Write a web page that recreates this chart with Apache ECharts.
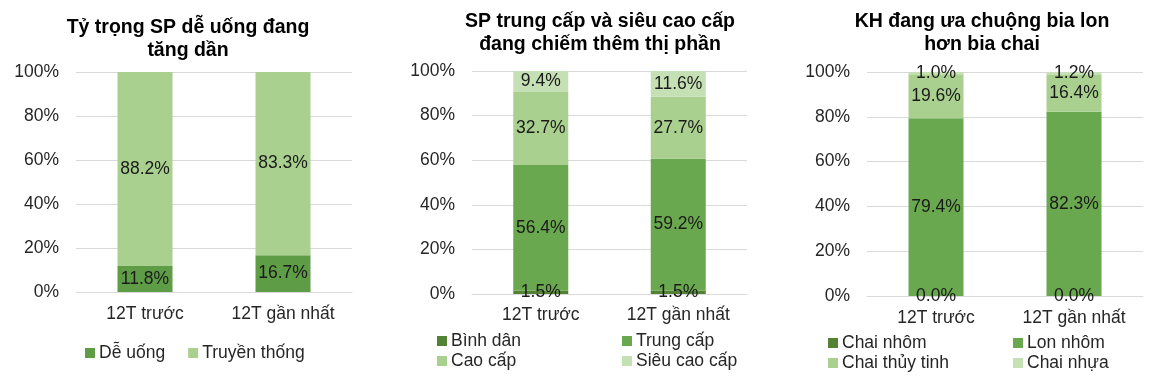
<!DOCTYPE html>
<html>
<head>
<meta charset="utf-8">
<script src="https://cdn.jsdelivr.net/npm/echarts@6/dist/echarts.min.js"></script>
<style>
html,body{margin:0;padding:0;background:#fff;}
#c{width:1156px;height:386px;}
</style>
</head>
<body>
<div id="c"></div>
<script>
// ---- data ----
const categories = ['12T trước', '12T gần nhất'];
const yTicks = [0, 20, 40, 60, 80, 100];

const title1 = 'Tỷ trọng SP dễ uống đang\ntăng dần';
const names1 = ['Dễ uống', 'Truyền thống'];
const deUong = [11.8, 16.7];
const truyenThong = [88.2, 83.3];

const title2 = 'SP trung cấp và siêu cao cấp\nđang chiếm thêm thị phần';
const names2 = ['Bình dân', 'Trung cấp', 'Cao cấp', 'Siêu cao cấp'];
const binhDan = [1.5, 1.5];
const trungCap = [56.4, 59.2];
const caoCap = [32.7, 27.7];
const sieuCaoCap = [9.4, 11.6];

const title3 = 'KH đang ưa chuộng bia lon\nhơn bia chai';
const names3 = ['Chai nhôm', 'Lon nhôm', 'Chai thủy tinh', 'Chai nhựa'];
const chaiNhom = [0.0, 0.0];
const lonNhom = [79.4, 82.3];
const chaiThuyTinh = [19.6, 16.4];
const chaiNhua = [1.0, 1.2];

// ---- style ----
const FONT = "'Liberation Sans', Arial, sans-serif";
const FS = 17.5;
const C_DARK = '#548235', C_MID = '#6aa84f', C_LIGHT = '#a9d08e', C_LIGHTEST = '#c5e0b4';
const C_DE = '#5f9c46';

const grids = [
  {left: 76, width: 276, top: 72, height: 220},
  {left: 472, width: 275, top: 71, height: 223},
  {left: 867, width: 276, top: 72, height: 224}
];

function xAxis(i, margin) {
  return {
    type: 'category', gridIndex: i, data: categories,
    axisLine: {show: true, lineStyle: {color: '#d9d9d9', width: 1}},
    axisTick: {show: false},
    axisLabel: {fontFamily: FONT, fontSize: FS, color: '#262626', margin: margin}
  };
}
function yAxis(i) {
  return {
    type: 'value', gridIndex: i, min: yTicks[0], max: yTicks[yTicks.length - 1], interval: 20,
    axisLine: {show: false}, axisTick: {show: false},
    splitLine: {lineStyle: {color: '#d9d9d9', width: 1}},
    axisLabel: {fontFamily: FONT, fontSize: FS, color: '#262626', margin: 17,
      formatter: v => v + '%'}
  };
}
function bar(name, data, i, color) {
  return {
    type: 'bar', name: name, data: data, xAxisIndex: i, yAxisIndex: i,
    stack: 's' + i, barWidth: 55, itemStyle: {color: color},
    label: {show: true, position: 'inside', fontFamily: FONT, fontSize: FS, color: '#1a1a1a',
      formatter: p => p.value.toFixed(1) + '%'}
  };
}
function legend(data, left, top, vertical) {
  return {
    data: data, left: left, top: top, orient: vertical ? 'vertical' : 'horizontal',
    icon: 'rect', itemWidth: 10, itemHeight: 10, itemGap: vertical ? 2 : 23, padding: 0,
    selectedMode: false,
    textStyle: {fontFamily: FONT, fontSize: FS, color: '#262626', padding: [0, 0, 0, -1]}
  };
}
function title(text, x, y) {
  return {
    text: text, left: x, top: y, textAlign: 'center', padding: 0,
    textStyle: {fontFamily: FONT, fontSize: 19.5, fontWeight: 'bold', color: '#000', lineHeight: 23}
  };
}

const chart = echarts.init(document.getElementById('c'), null, {renderer: 'canvas'});
chart.setOption({
  animation: false,
  backgroundColor: '#fff',
  title: [title(title1, 188, 16), title(title2, 600, 10), title(title3, 982, 10)],
  grid: grids,
  xAxis: [xAxis(0, 13), xAxis(1, 12), xAxis(2, 13)],
  yAxis: [yAxis(0), yAxis(1), yAxis(2)],
  legend: [
    legend(names1, 85, 344, false),
    legend([names2[0], names2[2]], 437, 332, true),
    legend([names2[1], names2[3]], 622, 332, true),
    legend([names3[0], names3[2]], 828, 334, true),
    legend([names3[1], names3[3]], 1013, 334, true)
  ],
  series: [
    bar(names1[0], deUong, 0, C_DE),
    bar(names1[1], truyenThong, 0, C_LIGHT),
    bar(names2[0], binhDan, 1, C_DARK),
    bar(names2[1], trungCap, 1, C_MID),
    bar(names2[2], caoCap, 1, C_LIGHT),
    bar(names2[3], sieuCaoCap, 1, C_LIGHTEST),
    bar(names3[0], chaiNhom, 2, C_DARK),
    bar(names3[1], lonNhom, 2, C_MID),
    bar(names3[2], chaiThuyTinh, 2, C_LIGHT),
    bar(names3[3], chaiNhua, 2, C_LIGHTEST)
  ]
});
</script>
</body>
</html>
